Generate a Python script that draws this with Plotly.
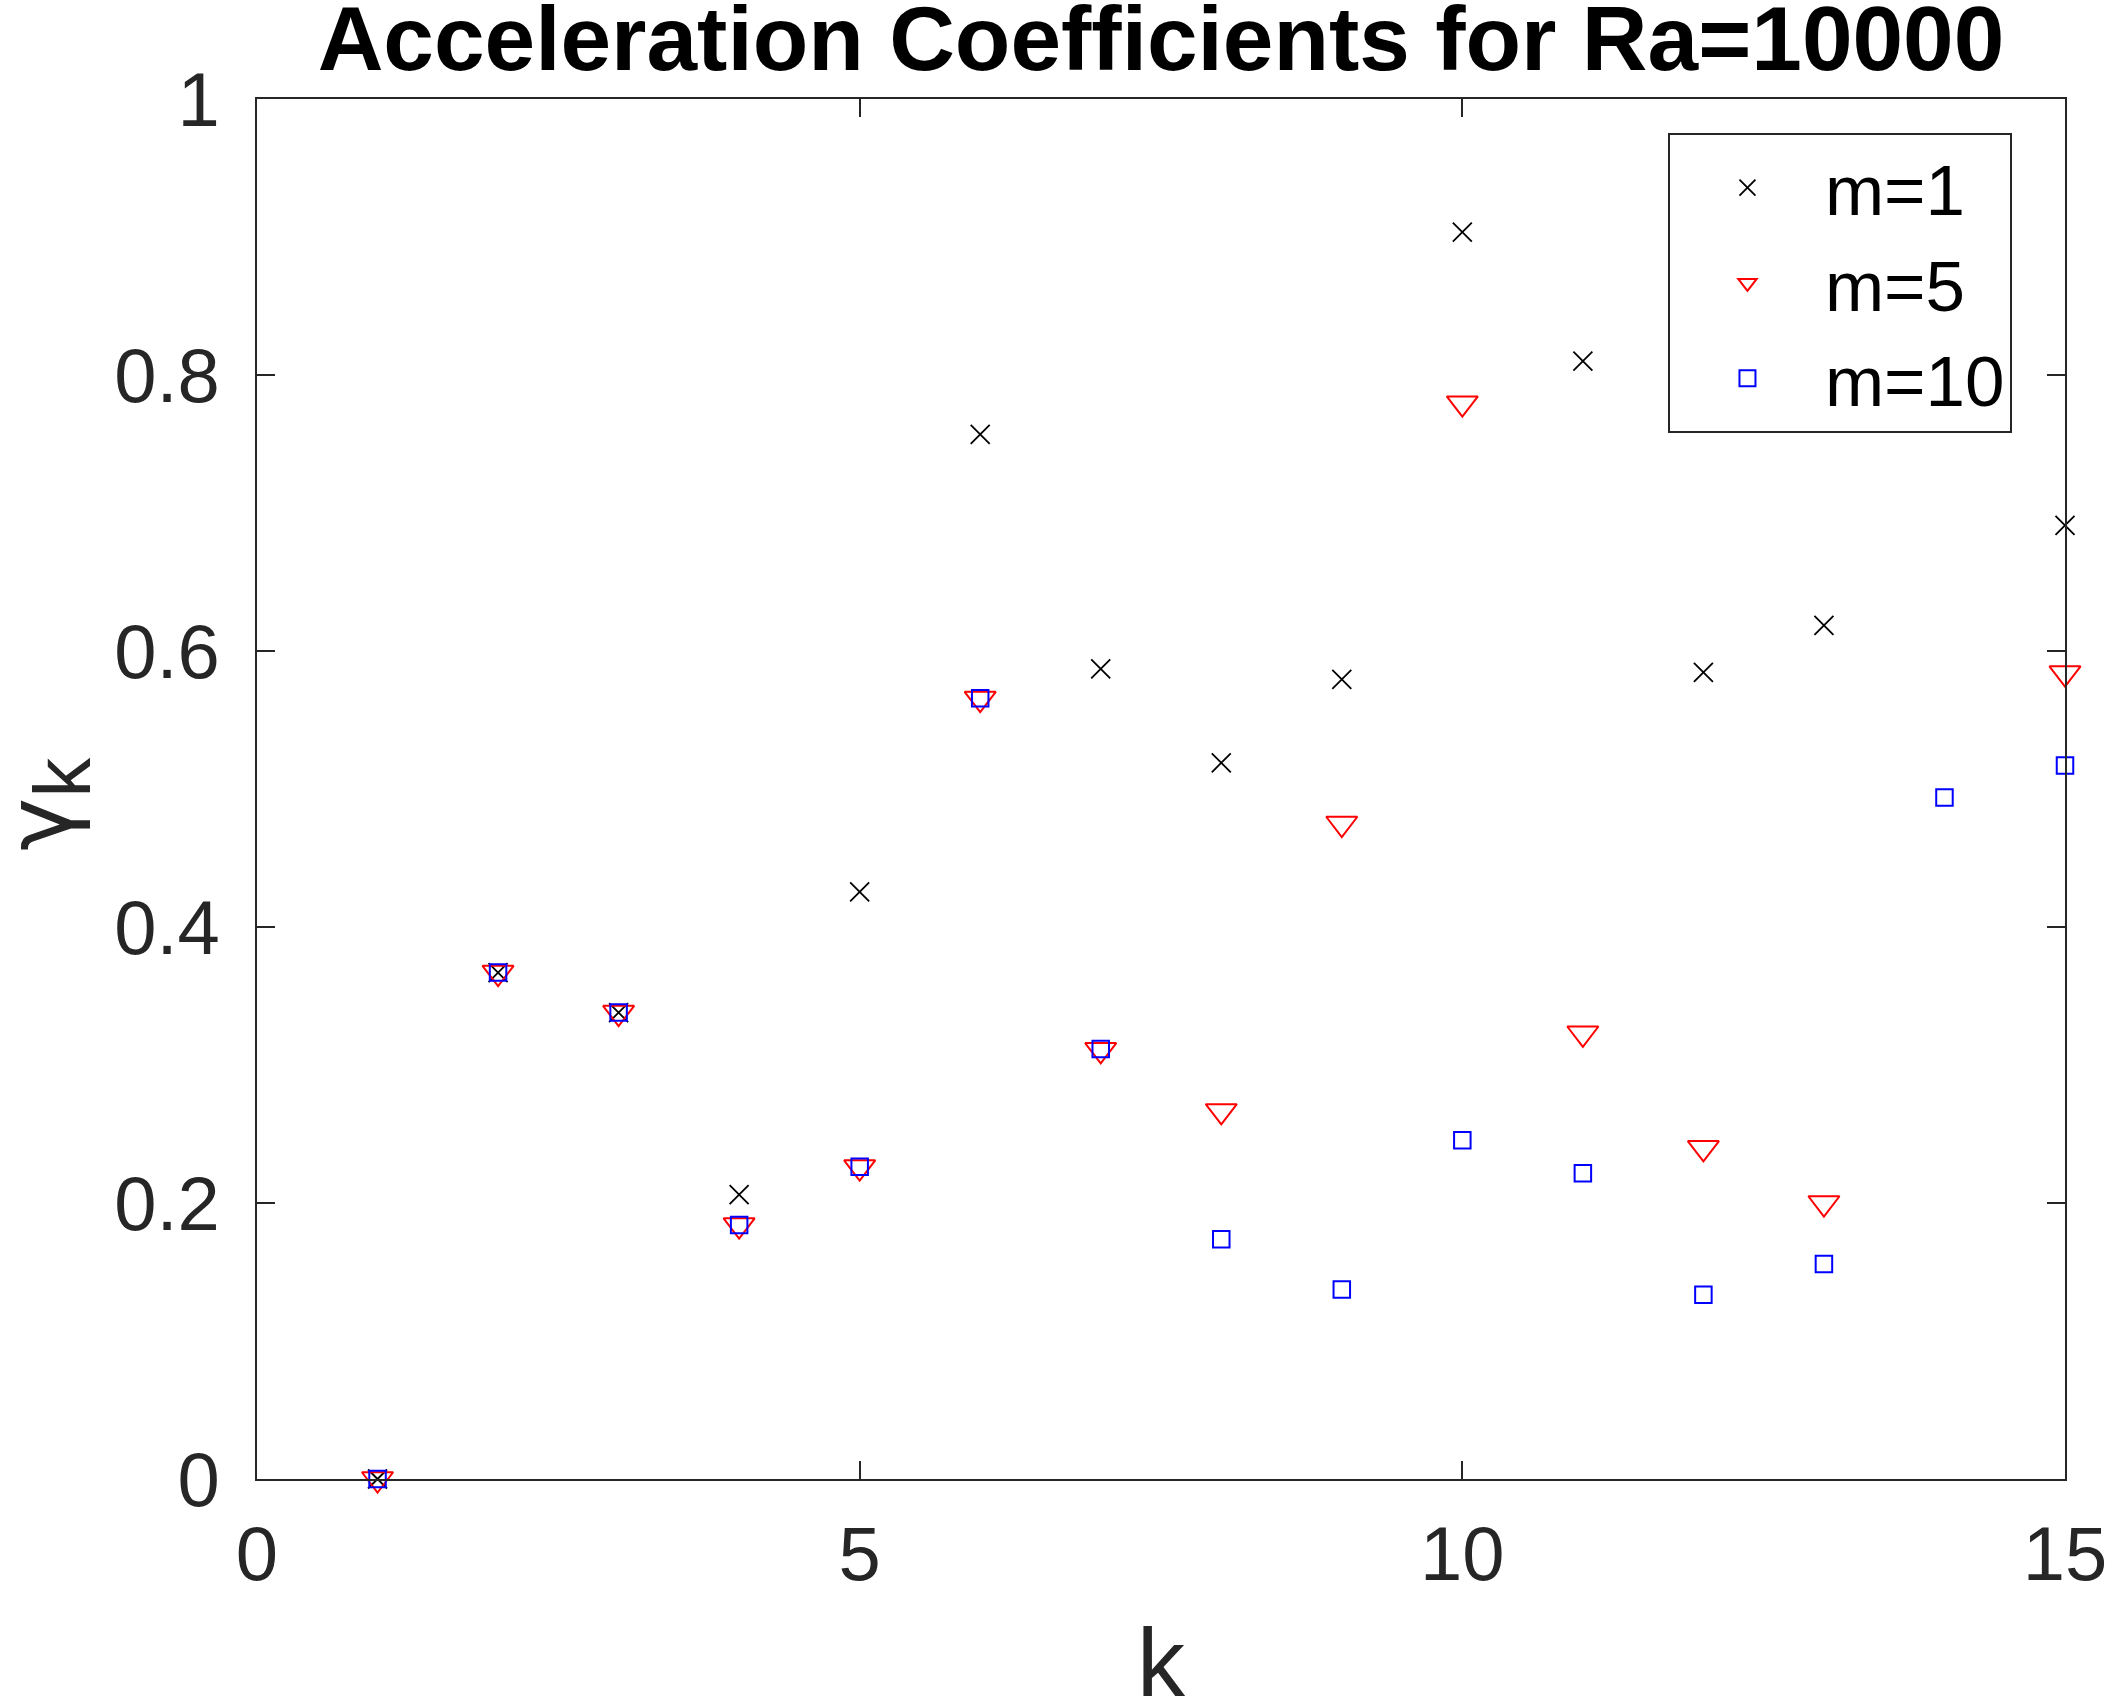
import plotly.graph_objects as go

k_vals = list(range(1, 16))
gamma_m1 = [0.0, 0.367, 0.338, 0.206, 0.4255, 0.757, 0.587, 0.519, 0.5795, 0.9036, 0.810, 0.5845, 0.6185, 0.88, 0.691]
gamma_m5 = [0.0, 0.367, 0.338, 0.184, 0.226, 0.5655, 0.311, 0.2667, 0.475, 0.7796, 0.323, 0.240, 0.200, 0.82, 0.584]
gamma_m10 = [0.0, 0.367, 0.338, 0.184, 0.2263, 0.5657, 0.3116, 0.1737, 0.1373, 0.2454, 0.2215, 0.1336, 0.1558, 0.4938, 0.517]
series_names = ["m=1", "m=5", "m=10"]

FONT = "Liberation Sans, Arial, Helvetica, sans-serif"
AX = "#262626"

fig = go.Figure()
fig.add_trace(go.Scatter(x=k_vals, y=gamma_m1, mode="markers", name=series_names[0],
                         marker=dict(symbol="x-thin-open", size=19, color="black",
                                     line=dict(color="black", width=1.8)),
                         cliponaxis=False))
fig.add_trace(go.Scatter(x=k_vals, y=gamma_m5, mode="markers", name=series_names[1],
                         marker=dict(symbol="triangle-down-open", size=27, color="red",
                                     line=dict(color="red", width=2)),
                         cliponaxis=False))
fig.add_trace(go.Scatter(x=k_vals, y=gamma_m10, mode="markers", name=series_names[2],
                         marker=dict(symbol="square-open", size=16.5, color="blue",
                                     line=dict(color="blue", width=2)),
                         cliponaxis=False))

axis_common = dict(
    showline=True, linecolor=AX, linewidth=2, mirror="ticks",
    ticks="inside", ticklen=18, tickwidth=1.5, tickcolor=AX,
    showgrid=False, zeroline=False, automargin=False,
    ticklabeloverflow="allow",
    tickfont=dict(family=FONT, size=76, color=AX),
)

ylabel = ("<span style=\"font-family:DejaVu Sans\">γ</span>"
          "<sub><span style=\"font-size:80px\">k</span></sub>")

fig.update_layout(
    width=2107, height=1696,
    margin=dict(l=257, r=42, t=99, b=217),
    paper_bgcolor="white", plot_bgcolor="white",
    title=dict(text="<b>Acceleration Coefficients for Ra=10000</b>",
               font=dict(family=FONT, size=91, color="black"),
               x=0.5, xref="paper", xanchor="center",
               y=1 - 70 / 1696, yref="container", yanchor="bottom"),
    xaxis=dict(range=[0, 15], tickvals=[0, 5, 10, 15], ticklabelstandoff=8,
               **axis_common),
    yaxis=dict(range=[0, 1], tickvals=[0, 0.2, 0.4, 0.6, 0.8, 1], ticklabelstandoff=20,
               **axis_common),
    legend=dict(x=0.7804, y=0.9754, xanchor="left", yanchor="top",
                bgcolor="white", bordercolor=AX, borderwidth=2,
                font=dict(family=FONT, size=71, color="black"),
                itemwidth=145, tracegroupgap=0),
    showlegend=True,
    annotations=[
        dict(text="k", xref="paper", yref="paper", x=0.5, y=-0.0928,
             xanchor="center", yanchor="top", showarrow=False,
             font=dict(family=FONT, size=96, color=AX)),
        dict(text=ylabel, xref="paper", yref="paper", x=-0.1162, y=0.489,
             xanchor="center", yanchor="middle", showarrow=False, textangle=-90,
             font=dict(family=FONT, size=90, color=AX)),
    ],
)

fig.write_html("out.html")
